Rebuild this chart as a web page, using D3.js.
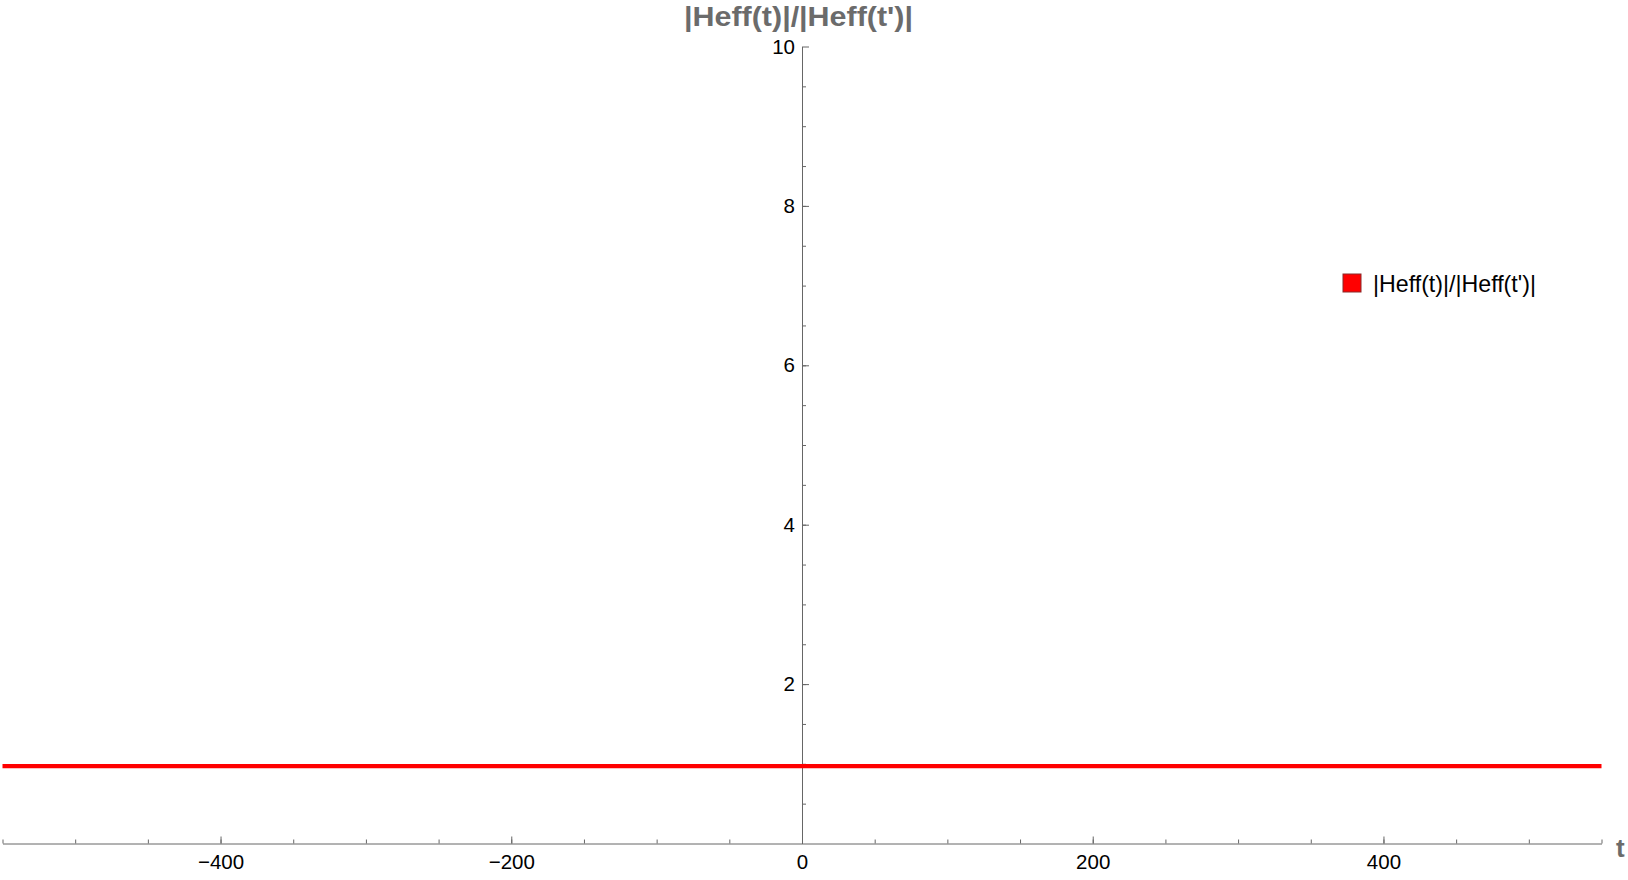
<!DOCTYPE html>
<html>
<head>
<meta charset="utf-8">
<script src="https://cdn.jsdelivr.net/npm/d3@7"></script>
<style>
  body { margin: 0; background: #fff; }
  .tick text { font-family: "Liberation Sans", Arial, sans-serif; font-size: 20.5px; fill: #000; }
  .axis path, .axis line { stroke: #666; }
</style>
</head>
<body>
<div id="chart"></div>
<script>
// Chart data
var tValues = [-550, -400, -200, 0, 200, 400, 550];
var ratioValues = [0.97, 0.97, 0.97, 0.97, 0.97, 0.97, 0.97];
var xTickValues = [-400, -200, 0, 200, 400];
var yTickValues = [2, 4, 6, 8, 10];
var seriesName = "|Heff(t)|/|Heff(t')|";

// SVG size
var svgWidth = 1628;
var svgHeight = 880;

var svg = d3.select("#chart")
  .append("svg")
  .attr("width", svgWidth)
  .attr("height", svgHeight);

// scales
var xScale = d3.scaleLinear()
  .domain([-550, 550])
  .range([2.5, 1601.5]);

var yScale = d3.scaleLinear()
  .domain([0, 10])
  .range([843.5, 46.5]);

// minor ticks for x axis
svg.append("g")
  .attr("class", "axis")
  .attr("transform", `translate(0, ${yScale(0)})`)
  .call(d3.axisBottom(xScale).tickValues(d3.range(-550, 551, 50)).tickSize(-4).tickFormat(""))
  .call(g => g.select(".domain").remove());

// x axis
svg.append("g")
  .attr("class", "axis")
  .attr("transform", `translate(0, ${yScale(0)})`)
  .call(d3.axisBottom(xScale).tickValues(xTickValues).tickSizeInner(-7).tickSizeOuter(0).tickPadding(11));

// minor ticks for y axis
svg.append("g")
  .attr("class", "axis")
  .attr("transform", `translate(${xScale(0)}, 0)`)
  .call(d3.axisLeft(yScale).tickValues(d3.range(0.5, 10, 0.5)).tickSize(-4).tickFormat(""))
  .call(g => g.select(".domain").remove());

// y axis
svg.append("g")
  .attr("class", "axis")
  .attr("transform", `translate(${xScale(0)}, 0)`)
  .call(d3.axisLeft(yScale).tickValues(yTickValues).tickSizeInner(-7).tickSizeOuter(0).tickPadding(7));

// the curve
var line = d3.line()
  .x((d, i) => xScale(tValues[i]))
  .y(d => yScale(d));

svg.append("path")
  .datum(ratioValues)
  .attr("d", line)
  .attr("fill", "none")
  .attr("stroke", "#ff0000")
  .attr("stroke-width", 4.3);

// axis labels
svg.append("text")
  .attr("x", 684)
  .attr("y", 26)
  .attr("textLength", 229)
  .attr("lengthAdjust", "spacingAndGlyphs")
  .style("font-family", "Liberation Sans, Arial, sans-serif")
  .style("font-weight", "bold")
  .style("font-size", "27px")
  .style("fill", "#6b6b6b")
  .text(seriesName);

svg.append("text")
  .attr("x", 1616)
  .attr("y", 857)
  .style("font-family", "Liberation Sans, Arial, sans-serif")
  .style("font-weight", "bold")
  .style("font-size", "26px")
  .style("fill", "#6b6b6b")
  .text("t");

// legend
var legend = svg.append("g")
  .attr("transform", "translate(1343, 274)");

legend.append("rect")
  .attr("width", 18)
  .attr("height", 18)
  .attr("fill", "#ff0000")
  .attr("stroke", "#8a2a2a")
  .attr("stroke-width", 1);

legend.append("text")
  .attr("x", 30)
  .attr("y", 18)
  .style("font-family", "Liberation Sans, Arial, sans-serif")
  .style("font-size", "23.2px")
  .style("fill", "#000")
  .text(seriesName);
</script>
</body>
</html>
